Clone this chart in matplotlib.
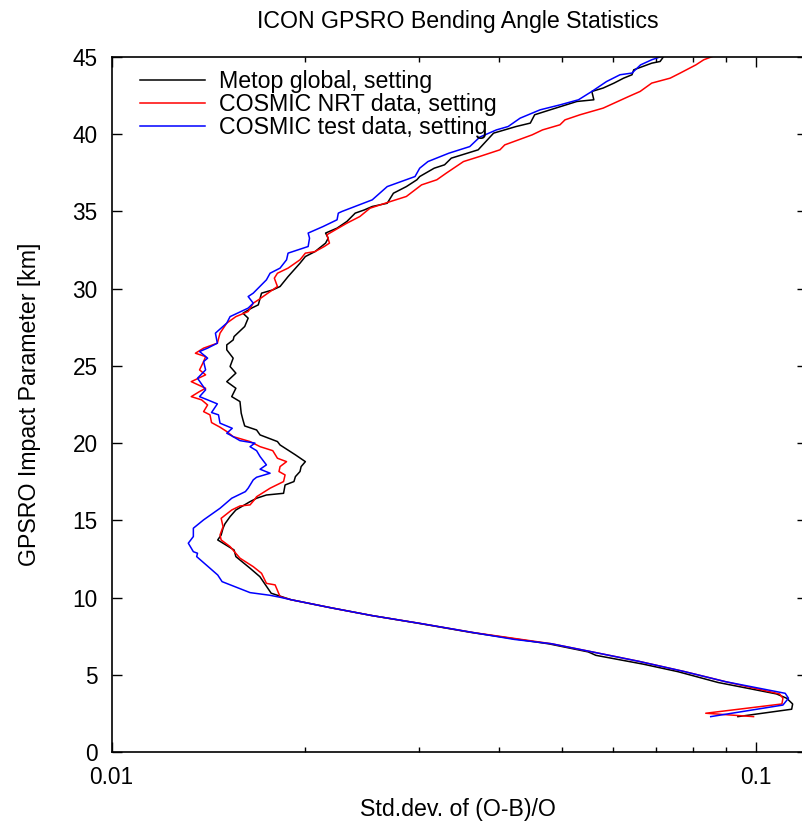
import matplotlib
matplotlib.use("Agg")
import matplotlib.pyplot as plt
from matplotlib.ticker import FixedLocator, FixedFormatter, LogLocator, NullFormatter

plt.rcParams['font.family'] = ['Liberation Sans', 'DejaVu Sans']

title = "ICON GPSRO Bending Angle Statistics"
xlabel = "Std.dev. of (O-B)/O"
ylabel = "GPSRO Impact Parameter [km]"
labels = ["Metop global, setting", "COSMIC NRT data, setting", "COSMIC test data, setting"]
colors = ["#000000", "#ff0000", "#0000ff"]

# Metop global (black): impact parameter [km], std.dev
metop_km = [2.29, 2.77, 3.11, 3.48, 3.76, 4.5, 5.2, 5.69, 6.26, 6.48, 7.0, 7.73, 8.33, 8.83,
            9.34, 9.86, 10.28, 11.35, 11.9, 12.65, 13.08, 13.73, 14.05, 14.49, 14.77, 15.24,
            15.67, 16.21, 16.43, 16.64, 16.75, 17.29, 17.51, 17.83, 18.16, 18.48, 18.8, 19.24,
            19.88, 20.1, 20.53, 20.85, 21.11, 21.5, 21.94, 22.69, 23.01, 23.55, 23.98, 24.53,
            24.96, 25.5, 26.04, 26.36, 26.68, 26.9, 27.55, 28.09, 28.41, 28.74, 28.95, 29.71,
            29.92, 30.14, 30.78, 31.65, 32.08, 32.4, 32.95, 33.27, 33.6, 33.92, 34.35, 34.89,
            35.1, 35.32, 35.53, 36.18, 36.61, 37.05, 37.26, 37.8, 38.02, 38.45, 38.99, 40.07,
            40.5, 40.72, 41.26, 41.58, 42.12, 42.23, 42.77, 42.99, 43.31, 43.63, 43.85, 44.17,
            44.6, 44.71, 45.1]
metop_sd = [0.0939, 0.1138, 0.1142, 0.1118, 0.1078, 0.0875, 0.0758, 0.0669, 0.0565, 0.0550,
            0.0478, 0.0363, 0.0300, 0.0254, 0.0219, 0.0190, 0.0177, 0.0170, 0.01641, 0.0156,
            0.0155, 0.01462, 0.0148, 0.0149, 0.0150, 0.01528, 0.0156, 0.01641, 0.0168, 0.0174,
            0.0185, 0.0186, 0.0192, 0.0193, 0.01962, 0.0197, 0.0200, 0.0193, 0.01827, 0.0181,
            0.01701, 0.0168, 0.0161, 0.0160, 0.0159, 0.01583, 0.01537, 0.0156, 0.0151, 0.0156,
            0.01528, 0.01545, 0.0151, 0.0151, 0.01545, 0.0155, 0.0161, 0.0163, 0.0160, 0.0165,
            0.0169, 0.0171, 0.0178, 0.01827, 0.0188, 0.01962, 0.0200, 0.0207, 0.0215, 0.0217,
            0.0215, 0.0224, 0.0232, 0.0239, 0.0247, 0.0254, 0.0268, 0.0274, 0.0287, 0.0298,
            0.0301, 0.0317, 0.0329, 0.0337, 0.0371, 0.0392, 0.0425, 0.0447, 0.0454, 0.0480,
            0.0528, 0.0561, 0.0557, 0.0580, 0.0603, 0.0624, 0.0643, 0.0647, 0.0690, 0.0711,
            0.0722]

# COSMIC NRT (red)
nrt_km = [2.29, 2.51, 3.11, 3.48, 3.76, 4.55, 5.21, 5.87, 6.48, 7.01, 7.73, 8.33, 8.83, 9.34,
          9.86, 10.06, 10.82, 10.92, 11.57, 12.0, 12.55, 13.3, 13.73, 14.05, 14.59, 15.13,
          15.67, 15.93, 16.0, 16.37, 16.53, 17.08, 17.51, 17.94, 18.16, 18.48, 18.8, 19.02,
          19.51, 19.77, 20.1, 20.42, 20.75, 21.03, 21.33, 21.83, 22.04, 22.47, 22.8, 23.01,
          23.34, 23.55, 23.98, 24.42, 24.74, 25.28, 25.6, 25.82, 26.15, 26.47, 27.12, 27.77,
          28.19, 28.52, 29.06, 29.27, 29.81, 30.14, 30.68, 31.0, 31.33, 31.87, 32.3, 32.4,
          32.73, 32.95, 33.49, 34.24, 34.67, 35.21, 35.64, 35.97, 36.72, 37.05, 37.48, 38.02,
          38.23, 38.56, 38.99, 39.31, 39.96, 40.28, 40.61, 40.93, 41.26, 41.69, 42.45, 42.77,
          43.31, 43.63, 43.96, 44.49, 44.82, 45.1]
nrt_sd = [0.0993, 0.0837, 0.1099, 0.1103, 0.1090, 0.0899, 0.0775, 0.0659, 0.0558, 0.0482,
          0.0365, 0.0301, 0.0254, 0.0219, 0.0190, 0.01827, 0.01795, 0.0174, 0.0171, 0.0166,
          0.01583, 0.01528, 0.0148, 0.01474, 0.0149, 0.0148, 0.01537, 0.01583, 0.01641, 0.0167,
          0.0168, 0.01763, 0.0185, 0.0186, 0.0182, 0.01827, 0.0187, 0.0181, 0.0178, 0.01701,
          0.01641, 0.01545, 0.0151, 0.01474, 0.0143, 0.01422, 0.0139, 0.0141, 0.0138, 0.0133,
          0.0137, 0.0140, 0.0133, 0.0140, 0.0137, 0.0139, 0.0140, 0.0135, 0.0139, 0.0146,
          0.01474, 0.0151, 0.0156, 0.0163, 0.0166, 0.0169, 0.01763, 0.0181, 0.0179, 0.0181,
          0.0188, 0.01962, 0.0200, 0.0207, 0.0214, 0.0218, 0.0216, 0.0232, 0.0243, 0.0252,
          0.0271, 0.0287, 0.0303, 0.0320, 0.0331, 0.0346, 0.0352, 0.0373, 0.0401, 0.0408,
          0.0450, 0.0467, 0.0497, 0.0506, 0.0534, 0.0580, 0.0636, 0.0662, 0.0690, 0.0737,
          0.0764, 0.0808, 0.0831, 0.0866]

# COSMIC test (blue)
test_km = [2.29, 3.04, 3.48, 3.80, 4.55, 5.21, 5.87, 6.48, 7.01, 7.29, 7.73, 8.33, 8.83, 9.34,
           9.86, 10.02, 10.15, 10.32, 11.03, 11.46, 11.9, 12.65, 12.87, 12.97, 13.52, 13.95,
           14.49, 15.03, 15.78, 16.43, 16.86, 17.08, 17.62, 17.79, 18.05, 18.31, 18.59, 19.13,
           19.51, 19.77, 20.0, 20.16, 20.53, 20.64, 20.96, 21.29, 21.83, 21.98, 22.54, 22.8,
           23.01, 23.45, 24.2, 24.74, 25.28, 25.5, 25.93, 26.15, 26.47, 27.12, 27.77, 28.19,
           28.74, 29.06, 29.49, 29.71, 30.57, 31.0, 31.33, 31.87, 32.3, 32.73, 33.27, 33.6,
           34.02, 34.46, 34.89, 35.0, 35.75, 36.61, 37.26, 37.8, 38.23, 38.77, 39.2, 39.81,
           40.28, 40.5, 41.04, 41.58, 41.9, 42.23, 42.77, 43.41, 43.85, 43.96, 44.49, 44.82,
           45.1]
test_sd = [0.0852, 0.1103, 0.1125, 0.1112, 0.0899, 0.0775, 0.0659, 0.0558, 0.0482, 0.0422,
           0.0365, 0.0301, 0.0254, 0.0219, 0.0190, 0.01827, 0.0176, 0.01641, 0.01485, 0.01462,
           0.01422, 0.01356, 0.0136, 0.0134, 0.01316, 0.0134, 0.0134, 0.0139, 0.01474, 0.01537,
           0.01614, 0.0163, 0.0166, 0.0168, 0.01763, 0.01701, 0.0174, 0.01701, 0.0168, 0.01641,
           0.0167, 0.01583, 0.01528, 0.0151, 0.0154, 0.01474, 0.01466, 0.0143, 0.0146, 0.0141,
           0.0137, 0.0140, 0.0136, 0.0140, 0.0139, 0.0141, 0.0137, 0.0141, 0.0146, 0.0145,
           0.0151, 0.01528, 0.0163, 0.0166, 0.0163, 0.0166, 0.0174, 0.01763, 0.01827, 0.0187,
           0.0188, 0.0202, 0.0203, 0.0202, 0.0213, 0.0224, 0.0225, 0.0228, 0.0254, 0.0268,
           0.0296, 0.0301, 0.0310, 0.0334, 0.0360, 0.0373, 0.0396, 0.0413, 0.0431, 0.0463,
           0.0497, 0.0531, 0.0557, 0.0587, 0.0616, 0.0643, 0.0663, 0.0690, 0.0722]

xticks = [0.01, 0.1]
xticklabels = ["0.01", "0.1"]
yticks = [0, 5, 10, 15, 20, 25, 30, 35, 40, 45]

FS = 16.7
W, H = 802, 823
fig = plt.figure(figsize=(W / 100, H / 100), dpi=100)
ax = fig.add_axes([111.5 / W, 1 - 752 / H, (806.5 - 111.5) / W, (752 - 57) / H])

series = [(metop_sd, metop_km), (nrt_sd, nrt_km), (test_sd, test_km)]
for (sd, km), c, lab in zip(series, colors, labels):
    ax.plot(sd, km, color=c, lw=1.1, label=lab)

ax.set_xscale('log')
ax.set_xlim(0.01, 0.12)
ax.set_ylim(0, 45)
ax.xaxis.set_major_locator(FixedLocator(xticks))
ax.xaxis.set_major_formatter(FixedFormatter(xticklabels))
ax.xaxis.set_minor_locator(LogLocator(base=10, subs=range(2, 10)))
ax.xaxis.set_minor_formatter(NullFormatter())
ax.yaxis.set_major_locator(FixedLocator(yticks))
ax.tick_params(which='both', direction='in', top=True, right=True, labelsize=16.3, width=1.0)
ax.tick_params(which='major', length=7.2)
ax.tick_params(which='minor', length=3.6)
ax.tick_params(axis='x', which='major', pad=10)
ax.tick_params(axis='y', which='major', pad=10)
for s in ax.spines.values():
    s.set_linewidth(1.2)

fig.text(458 / W, 1 - 28 / H, title, ha='center', va='baseline', fontsize=FS)
fig.text(458 / W, 1 - 816 / H, xlabel, ha='center', va='baseline', fontsize=FS)
fig.text(30 / W, 1 - 404 / H, ylabel, ha='center', va='center', rotation=90, fontsize=FS)

leg = ax.legend(loc='upper left', bbox_to_anchor=(140 / W, 1 - 70 / H), bbox_transform=fig.transFigure,
                frameon=False, fontsize=FS, handlelength=2.8, handletextpad=0.62,
                labelspacing=0.0, borderpad=0, borderaxespad=0)

fig.savefig("out.png", dpi=100)
